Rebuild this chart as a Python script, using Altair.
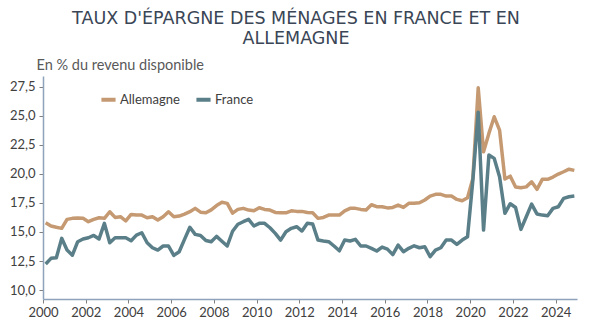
import altair as alt
import pandas as pd

# Quarterly household saving rate, 2000Q1 -> 2024Q4 (% of disposable income)
allemagne = [
    15.79, 15.51, 15.40, 15.31, 16.08, 16.17, 16.20, 16.17, 15.88, 16.08,
    16.22, 16.17, 16.74, 16.25, 16.31, 15.96, 16.51, 16.45, 16.45, 16.22,
    16.31, 16.02, 16.31, 16.74, 16.31, 16.37, 16.54, 16.74, 17.03, 16.70,
    16.65, 16.90, 17.27, 17.55, 17.46, 16.62, 16.94, 17.03, 16.88, 16.82,
    17.08, 16.94, 16.88, 16.68, 16.65, 16.65, 16.82, 16.77, 16.77, 16.68,
    16.65, 16.17, 16.25, 16.45, 16.45, 16.45, 16.82, 17.03, 17.03, 16.94,
    16.88, 17.34, 17.17, 17.17, 17.07, 17.11, 17.31, 17.11, 17.46, 17.46,
    17.51, 17.75, 18.09, 18.24, 18.24, 18.09, 18.09, 17.80, 17.69, 17.94,
    19.61, 27.40, 21.90, 23.48, 24.91, 23.77, 19.55, 19.80, 18.87, 18.80,
    18.88, 19.32, 18.67, 19.53, 19.53, 19.72, 19.98, 20.18, 20.40, 20.30,
]
france = [
    12.24, 12.73, 12.78, 14.45, 13.44, 13.00, 14.16, 14.39, 14.50, 14.70,
    14.40, 15.74, 14.07, 14.50, 14.50, 14.50, 14.24, 14.73, 14.93, 14.07,
    13.64, 13.44, 13.79, 13.79, 12.98, 13.30, 14.36, 15.40, 14.79, 14.70,
    14.26, 14.16, 14.62, 14.20, 13.79, 15.06, 15.66, 15.88, 16.08, 15.51,
    15.74, 15.74, 15.36, 14.88, 14.30, 15.02, 15.31, 15.45, 15.08, 15.74,
    15.68, 14.30, 14.22, 14.16, 13.79, 13.38, 14.30, 14.22, 14.36, 13.79,
    13.79, 13.59, 13.36, 13.70, 13.52, 13.05, 13.87, 13.30, 13.59, 13.81,
    13.64, 13.73, 12.87, 13.44, 13.64, 14.30, 14.30, 13.93, 14.30, 14.59,
    19.47, 25.30, 15.16, 21.62, 21.33, 19.75, 16.60, 17.43, 17.10, 15.22,
    16.31, 17.40, 16.55, 16.45, 16.40, 17.03, 17.17, 17.89, 18.03, 18.09,
]
annees = [y for y in range(2000, 2025) for _ in range(4)]
trimestres = [q for _ in range(2000, 2025) for q in range(1, 5)]
pays = ["Allemagne", "France"]
couleurs = ["#C59A72", "#5A7F89"]
y_ticks = [10.0, 12.5, 15.0, 17.5, 20.0, 22.5, 25.0, 27.5]
x_ticks = list(range(2000, 2025, 2))

rows = []
for nom, serie in zip(pays, [allemagne, france]):
    for a, q, v in zip(annees, trimestres, serie):
        rows.append({"date": a + (q - 0.5) / 4, "pays": nom, "taux": v})
df = pd.DataFrame(rows)

font = "Lato"
label_color = "#404040"
axis_color = "#8FA2BC"

chart = alt.Chart(df).mark_line(strokeWidth=3.5, strokeJoin="round").encode(
    x=alt.X("date:Q",
            scale=alt.Scale(domain=[2000, 2025], nice=False, zero=False),
            axis=alt.Axis(values=x_ticks, format="d", title=None, grid=False,
                          labelOverlap=False, labelFlush=False,
                          tickSize=4, tickColor="#7f7f7f", domainColor=axis_color,
                          domainWidth=1.5, labelFont=font, labelFontSize=13,
                          labelColor=label_color, labelPadding=3)),
    y=alt.Y("taux:Q",
            scale=alt.Scale(domain=[9.23, 28.42], nice=False, zero=False),
            axis=alt.Axis(values=y_ticks,
                          labelExpr="replace(format(datum.value, '.1f'), '.', ',')",
                          labelOverlap=False, labelFlush=False,
                          title="En % du revenu disponible", titleAngle=0,
                          titleX=-7, titleY=-7, titleAlign="left",
                          titleBaseline="alphabetic", titleFont=font,
                          titleFontSize=14.5, titleFontWeight="normal",
                          titleColor="#595959",
                          grid=False, tickSize=4, tickColor="#7f7f7f",
                          domainColor=axis_color, domainWidth=1.5,
                          labelFont=font, labelFontSize=13,
                          labelColor=label_color, labelPadding=4)),
    color=alt.Color("pays:N",
                    scale=alt.Scale(domain=pays, range=couleurs),
                    legend=alt.Legend(orient="none", legendX=56, legendY=14,
                                      direction="horizontal", title=None,
                                      symbolType="stroke", symbolStrokeWidth=4,
                                      symbolSize=200, labelFont=font,
                                      labelFontSize=13, labelColor=label_color,
                                      columnPadding=8, labelOffset=2)),
).properties(
    width=534,
    height=223,
    title=alt.TitleParams(
        text=["TAUX D'ÉPARGNE DES MÉNAGES EN FRANCE ET EN", "ALLEMAGNE"],
        anchor="middle", frame="group", fontSize=17.5, font="DejaVu Sans",
        fontWeight="normal", color="#3a4656", lineHeight=20, dx=-14, dy=-6,
    ),
    autosize=alt.AutoSizeParams(type="none"),
    padding={"left": 43, "top": 76, "right": 14, "bottom": 33},
).configure_view(stroke=None)

chart.save("out.html", embed_options={"renderer": "svg", "actions": False})
